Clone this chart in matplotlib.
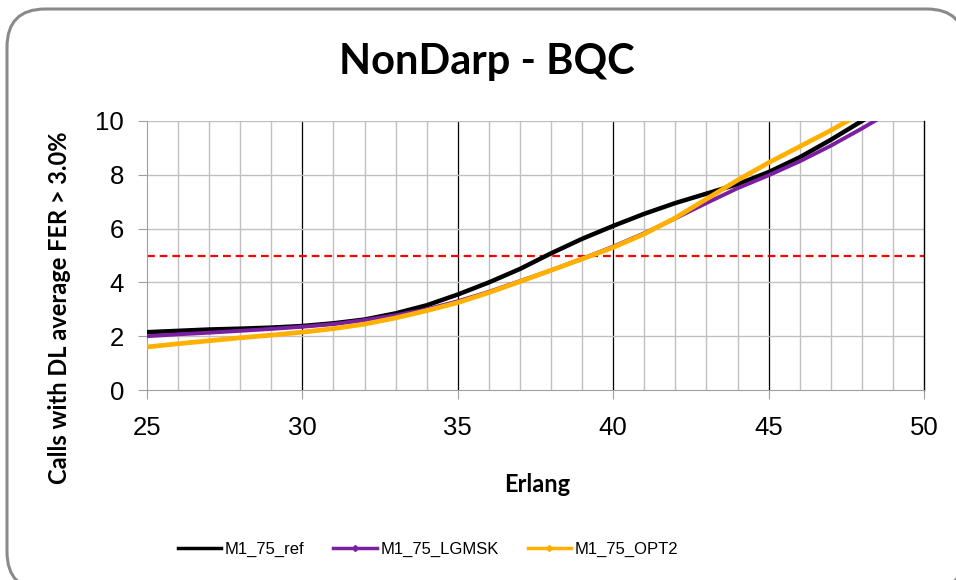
import numpy as np
import matplotlib
matplotlib.use('Agg')
import matplotlib.pyplot as plt
from matplotlib.lines import Line2D
from matplotlib.patches import FancyBboxPatch

# data
erlang = list(range(25, 51))
ref = [2.15, 2.2, 2.25, 2.28, 2.32, 2.38, 2.48, 2.62, 2.85, 3.15, 3.55, 4.0, 4.5,
       5.08, 5.62, 6.1, 6.55, 6.95, 7.3, 7.65, 8.1, 8.65, 9.3, 10.0, 10.7, 11.4]
lgmsk = [2.0, 2.07, 2.13, 2.2, 2.27, 2.35, 2.45, 2.6, 2.78, 3.0, 3.3, 3.65, 4.05,
         4.45, 4.88, 5.33, 5.83, 6.38, 6.95, 7.5, 7.98, 8.5, 9.08, 9.72, 10.4, 11.1]
opt2 = [1.6, 1.72, 1.83, 1.94, 2.04, 2.15, 2.28, 2.45, 2.68, 2.95, 3.25, 3.62, 4.03,
        4.45, 4.87, 5.3, 5.8, 6.4, 7.1, 7.8, 8.45, 9.05, 9.65, 10.3, 11.0, 11.7]
threshold = 5
names = ['M1_75_ref', 'M1_75_LGMSK', 'M1_75_OPT2']
colors = ['#000000', '#7A1FA2', '#FFB000']

plt.rcParams['font.family'] = ['Liberation Sans', 'DejaVu Sans']

W, H = 956, 580
fig = plt.figure(figsize=(W/100, H/100), dpi=100)

# rounded chart border
box = FancyBboxPatch((7/W, 1-590/H), (965-7)/W, (590-9)/H,
                     boxstyle="round,pad=0,rounding_size=0.04",
                     transform=fig.transFigure, fc='white', ec='#8a8a8a', lw=2.2,
                     clip_on=False, mutation_aspect=W/H, zorder=-10)
fig.patches.append(box)

ax = fig.add_axes([147/W, 1-390/H, 777/W, 269/H])
ax.set_zorder(5)
ax.set_xlim(25, 50)
ax.set_ylim(0, 10)

# grid
for x in range(26, 50):
    c = '#000000' if x % 5 == 0 else '#c0c0c0'
    ax.axvline(x, color=c, lw=1.0 if x % 5 else 0.9, zorder=1)
for y in range(2, 11, 2):
    ax.axhline(y, color='#c0c0c0', lw=1.0, zorder=1)

ax.axhline(threshold, color='#FF0000', lw=1.6, ls=(0, (3.5, 2.2)), zorder=2)

lws = [3.2, 2.8, 3.4]
for vals, c, lw, n in zip([ref, lgmsk, opt2], colors, lws, names):
    ax.plot(erlang, vals, color=c, lw=lw, label=n, zorder=3,
            solid_capstyle='round')

ax.spines['top'].set_visible(False)
ax.spines['left'].set_color('#a0a0a0')
ax.spines['bottom'].set_color('#a0a0a0')
ax.spines['right'].set_color('#000000')
ax.spines['right'].set_linewidth(1.0)

ax.set_xticks([25, 30, 35, 40, 45, 50])
ax.set_yticks([0, 2, 4, 6, 8, 10])
ax.tick_params(axis='both', direction='out', length=6.5, color='#a0a0a0',
               labelsize=18.5)
ax.tick_params(axis='x', pad=12)
ax.tick_params(axis='y', pad=10)

fig.text(487/W, 1-62/H, 'NonDarp - BQC', ha='center', va='center',
         fontsize=30, fontweight='bold', family='Lato')
fig.text(537/W, 1-484/H, 'Erlang', ha='center', va='center',
         fontsize=17, fontweight='bold', family='Lato')
fig.text(60/W, 1-308/H, 'Calls with DL average FER > 3.0%', ha='center',
         va='center', rotation=90, fontsize=17, fontweight='bold', family='Lato')

handles = [Line2D([], [], color=colors[0], lw=2.5),
           Line2D([], [], color=colors[1], lw=2.5, marker='D', ms=3),
           Line2D([], [], color=colors[2], lw=2.5, marker='D', ms=3)]
fig.legend(handles, names, loc='center left', bbox_to_anchor=(178/W, 1-549/H),
           ncol=3, frameon=False, fontsize=12, handlelength=2.6,
           handletextpad=0.2, columnspacing=1.75, borderpad=0, borderaxespad=0)

fig.savefig('out.png', dpi=100)
